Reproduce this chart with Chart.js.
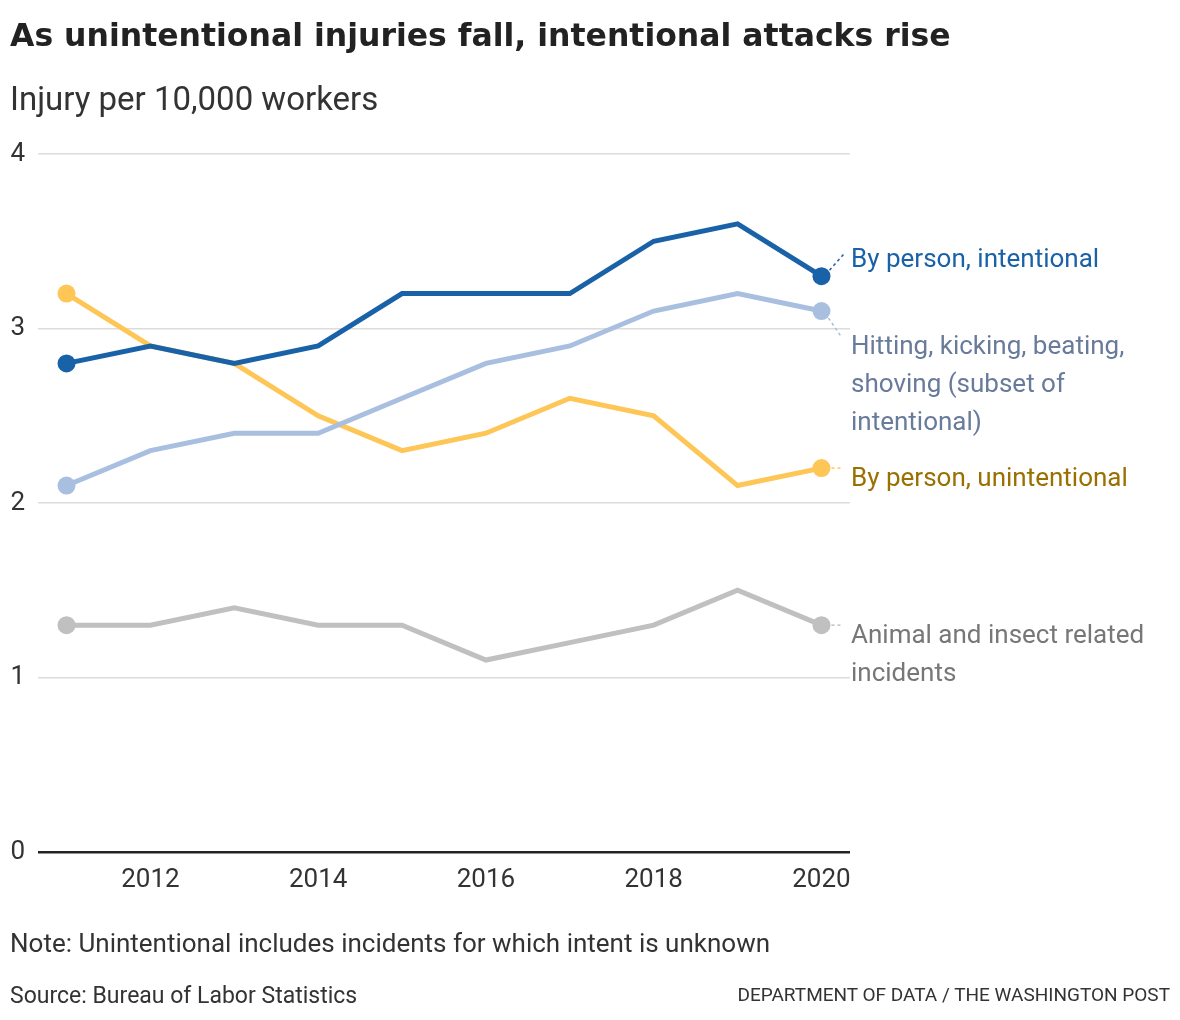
<!DOCTYPE html>
<html>
<head>
<meta charset="utf-8">
<script src="https://cdn.jsdelivr.net/npm/chart.js@4/dist/chart.umd.min.js"></script>
<style>
  body { margin: 0; background: #fff; font-family: Roboto, "Liberation Sans", sans-serif; color: #222; }
  #wrap { position: relative; width: 1180px; height: 1020px; overflow: hidden; }
  #chartBox { position: absolute; left: 0; top: 0; width: 1180px; height: 1020px; }
  .txt { position: absolute; white-space: nowrap; line-height: normal; }
  #title { left: 10px; top: 17px; font-family: "DejaVu Sans", sans-serif; font-size: 31.5px; font-weight: 700; color: #222; }
  #subtitle { left: 10px; top: 79px; font-size: 33px; color: #333; }
  #note { left: 10px; top: 928px; font-size: 26px; color: #333; }
  #source { left: 10px; top: 982px; font-size: 23px; color: #333; }
  #credit { right: 10px; top: 983px; font-size: 19px; color: #333; }
</style>
</head>
<body>
<div id="wrap">
  <div id="chartBox"><canvas id="chart"></canvas></div>
  <div class="txt" id="title">As unintentional injuries fall, intentional attacks rise</div>
  <div class="txt" id="subtitle">Injury per 10,000 workers</div>
  <div class="txt" id="note">Note: Unintentional includes incidents for which intent is unknown</div>
  <div class="txt" id="source">Source: Bureau of Labor Statistics</div>
  <div class="txt" id="credit">DEPARTMENT OF DATA / THE WASHINGTON POST</div>
</div>
<script>
const years = [2011, 2012, 2013, 2014, 2015, 2016, 2017, 2018, 2019, 2020];
const intentional = [2.8, 2.9, 2.8, 2.9, 3.2, 3.2, 3.2, 3.5, 3.6, 3.3];
const hitting = [2.1, 2.3, 2.4, 2.4, 2.6, 2.8, 2.9, 3.1, 3.2, 3.1];
const unintentional = [3.2, 2.9, 2.8, 2.5, 2.3, 2.4, 2.6, 2.5, 2.1, 2.2];
const animal = [1.3, 1.3, 1.4, 1.3, 1.3, 1.1, 1.2, 1.3, 1.5, 1.3];
const xTicks = [2012, 2014, 2016, 2018, 2020];
const yTicks = [0, 1, 2, 3, 4];

const FONT = 'Roboto, "Liberation Sans", sans-serif';

// label text, colour, and where it sits next to the last point
const endLabels = [
  { lines: ["By person, intentional"], color: "#1a62a8", line: "#1a62a8", dy: -16, dash: [[8, -6], [24, -24]] },
  { lines: ["Hitting, kicking, beating,", "shoving (subset of", "intentional)"], color: "#687b9b", line: "#a9bfe0", dy: 36, dash: [[7, 7], [20, 26]] },
  { lines: ["By person, unintentional"], color: "#9a7000", line: "#fdc656", dy: 11, dash: [[10, 0], [22, 0]] },
  { lines: ["Animal and insect related", "incidents"], color: "#777777", line: "#c0c0c0", dy: 11, dash: [[10, 0], [22, 0]] },
];

function series(vals) {
  return vals.map((v, i) => ({ x: years[i], y: v }));
}

function endPoint(ctx) {
  const last = ctx.dataset.data.length - 1;
  return ctx.dataIndex === 0 || ctx.dataIndex === last ? 9 : 0;
}

function makeSet(vals, color) {
  return {
    data: series(vals),
    borderColor: color,
    backgroundColor: color,
    borderWidth: 5,
    pointRadius: endPoint,
    pointHoverRadius: endPoint,
    pointBorderWidth: 0,
    tension: 0,
    clip: false,
  };
}

const labelPlugin = {
  id: "endLabels",
  afterDatasetsDraw(chart) {
    const c = chart.ctx;
    const xs = chart.scales.x, ys = chart.scales.y;
    const textX = chart.chartArea.right + 1;
    chart.data.datasets.forEach((ds, i) => {
      const lab = endLabels[i];
      const lastPt = ds.data[ds.data.length - 1];
      const px = xs.getPixelForValue(lastPt.x);
      const py = ys.getPixelForValue(lastPt.y);
      c.save();
      c.strokeStyle = lab.line;
      c.lineWidth = 1.5;
      c.setLineDash([3, 3]);
      c.beginPath();
      c.moveTo(px + lab.dash[0][0], py + lab.dash[0][1]);
      c.lineTo(px + lab.dash[1][0], py + lab.dash[1][1]);
      c.stroke();
      c.setLineDash([]);
      c.fillStyle = lab.color;
      c.font = "26px " + FONT;
      c.textBaseline = "middle";
      c.textAlign = "left";
      lab.lines.forEach((t, k) => {
        c.fillText(t, textX, py + lab.dy + k * 38);
      });
      c.restore();
    });
  },
};

new Chart(document.getElementById("chart"), {
  type: "line",
  data: {
    datasets: [
      makeSet(intentional, "#1a62a8"),
      makeSet(hitting, "#a9bfe0"),
      makeSet(unintentional, "#fdc656"),
      makeSet(animal, "#c0c0c0"),
    ],
  },
  options: {
    responsive: true,
    maintainAspectRatio: false,
    animation: false,
    events: [],
    layout: { padding: { left: 0, right: 330, top: 154, bottom: 128 } },
    plugins: { legend: { display: false }, tooltip: { enabled: false } },
    scales: {
      x: {
        type: "linear",
        min: 2010.66,
        max: 2020.34,
        afterBuildTicks: (s) => { s.ticks = xTicks.map((v) => ({ value: v })); },
        afterFit: (s) => { s.height = 40; },
        grid: { display: false, drawTicks: false },
        border: { display: false },
        ticks: {
          padding: 13,
          color: "#333",
          font: { family: FONT, size: 26 },
          callback: (v) => String(v),
          maxRotation: 0,
          autoSkip: false,
        },
      },
      y: {
        min: 0,
        max: 4,
        afterBuildTicks: (s) => { s.ticks = yTicks.map((v) => ({ value: v })); },
        afterFit: (s) => { s.width = 38; },
        grid: {
          drawTicks: false,
          color: (ctx) => (ctx.tick && ctx.tick.value === 0 ? "#222" : "#dcdcdc"),
          lineWidth: (ctx) => (ctx.tick && ctx.tick.value === 0 ? 2.5 : 1.5),
        },
        border: { display: false },
        ticks: {
          padding: 13,
          color: "#333",
          font: { family: FONT, size: 26 },
        },
      },
    },
  },
  plugins: [labelPlugin],
});
</script>
</body>
</html>
